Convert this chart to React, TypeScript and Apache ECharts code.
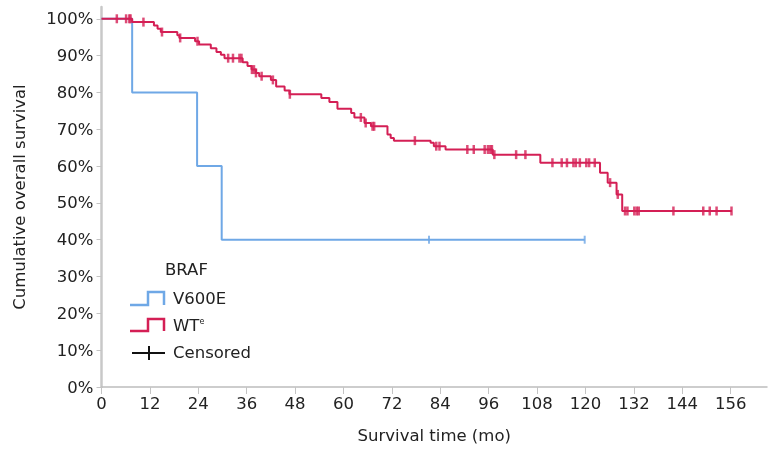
import React, { useEffect, useRef } from "react";
import * as echarts from "echarts";

// ---- data ----
const xTicks = [0, 12, 24, 36, 48, 60, 72, 84, 96, 108, 120, 132, 144, 156];
const yTicks = [0, 10, 20, 30, 40, 50, 60, 70, 80, 90, 100];

const blueTimes = [0, 7.6, 23.7, 29.8, 119.8];
const blueSurv = [100, 80, 60, 40, 40];
const blueCensor = [81.2, 119.8];

const redTimes = [0, 7.6, 13.0, 13.9, 14.7, 18.8, 19.3, 23.2, 24.2, 27.1, 28.5, 29.6, 30.5, 35.0, 36.2, 37.2, 38.3, 39.1, 42.0, 43.3, 45.4, 46.6, 54.5, 56.5, 58.5, 61.9, 62.7, 65.2, 66.8, 70.9, 71.7, 72.5, 81.6, 82.4, 85.3, 97.0, 108.8, 123.6, 125.5, 127.7, 129.1, 156.3];
const redSurv = [100, 99.1, 98.2, 97.3, 96.4, 95.5, 94.8, 93.9, 93.0, 92.0, 91.0, 90.2, 89.3, 88.2, 87.2, 86.2, 85.3, 84.4, 83.4, 81.6, 80.5, 79.5, 78.5, 77.4, 75.6, 74.4, 73.2, 71.7, 70.8, 68.6, 67.6, 66.9, 66.3, 65.4, 64.5, 63.1, 60.9, 58.2, 55.5, 52.3, 47.8, 47.8];
const redCensor = [3.8, 6.1, 6.9, 7.2, 10.4, 15.0, 19.5, 23.8, 31.4, 32.6, 34.2, 34.7, 37.3, 37.8, 38.3, 39.7, 42.5, 46.7, 64.3, 65.5, 67.2, 67.6, 77.7, 83.0, 83.8, 90.7, 92.3, 95.0, 95.8, 96.4, 96.8, 97.4, 102.8, 105.1, 111.8, 114.1, 115.4, 117.0, 117.6, 118.6, 120.2, 120.9, 122.3, 126.1, 128.0, 129.8, 130.4, 132.1, 132.7, 133.2, 141.8, 149.2, 150.8, 152.5, 156.2];

const BLUE = "#6fa8e6";
const RED = "#d41f55";
const FONT = "DejaVu Sans";
const FS = 16.5;

function stepLookup(times: number[], surv: number[], t: number): number {
  let v = surv[0];
  for (let i = 0; i < times.length; i++) {
    if (times[i] <= t) v = surv[i];
  }
  return v;
}

export default function App() {
  const ref = useRef<HTMLDivElement>(null);
  useEffect(() => {
    if (!ref.current) return;
    const chart = echarts.init(ref.current, undefined, { renderer: "svg" });
    const redLine = redTimes.map((t, i) => [t, redSurv[i]]);
    const blueLine = blueTimes.map((t, i) => [t, blueSurv[i]]);
    const redC = redCensor.map((t) => [t, stepLookup(redTimes, redSurv, t)]);
    const blueC = blueCensor.map((t) => [t, stepLookup(blueTimes, blueSurv, t)]);
    const textStyle = { fontFamily: FONT, fontSize: FS, fill: "#222" };
    const gridTop = 7;
    const gridBottom = 60;
    const gridH = 449 - gridTop - gridBottom;
    chart.setOption({
      animation: false,
      grid: { left: 101.5, right: 10, top: gridTop, bottom: gridBottom, containLabel: false },
      xAxis: [
        {
          type: "value",
          min: 0,
          max: 165,
          interval: 12,
          name: "Survival time (mo)",
          nameLocation: "middle",
          nameGap: 40,
          nameTextStyle: { fontFamily: FONT, fontSize: FS, color: "#222" },
          axisLine: { lineStyle: { color: "#bdbdbd", width: 1.5 } },
          axisTick: { customValues: xTicks, length: 5, lineStyle: { color: "#c4c4c4" } },
          axisLabel: { customValues: xTicks, fontFamily: FONT, fontSize: FS, color: "#222", margin: 8 },
          splitLine: { show: false },
        },
        {
          type: "value",
          min: 0,
          max: 165,
          interval: 12,
          position: "top",
          offset: -gridH,
          axisLine: { show: false },
          axisTick: { show: true, inside: true, customValues: xTicks, length: 5, lineStyle: { color: "#c4c4c4" } },
          axisLabel: { show: false },
          splitLine: { show: false },
        },
      ],
      yAxis: {
        type: "value",
        min: 0,
        max: 103.2,
        interval: 10,
        name: "Cumulative overall survival",
        nameLocation: "middle",
        nameGap: 74,
        nameRotate: 90,
        nameTextStyle: { fontFamily: FONT, fontSize: FS, color: "#222" },
        axisLine: { show: true, lineStyle: { color: "#c8c8c8", width: 2.5 } },
        axisTick: { show: true, customValues: yTicks, length: 5, lineStyle: { color: "#c4c4c4" } },
        axisLabel: { customValues: yTicks, formatter: "{value}%", fontFamily: FONT, fontSize: FS, color: "#222", margin: 8 },
        splitLine: { show: false },
      },
      series: [
        {
          type: "line",
          step: "end",
          data: blueLine,
          showSymbol: false,
          lineStyle: { color: BLUE, width: 2 },
          z: 2,
        },
        {
          type: "line",
          step: "end",
          data: redLine,
          showSymbol: false,
          lineStyle: { color: RED, width: 2 },
          z: 3,
        },
        {
          type: "scatter",
          data: blueC,
          symbol: "rect",
          symbolSize: [2, 8],
          itemStyle: { color: BLUE },
          z: 2,
        },
        {
          type: "scatter",
          data: redC,
          symbol: "rect",
          symbolSize: [2.5, 9],
          itemStyle: { color: RED },
          z: 4,
        },
      ],
      graphic: [
        { type: "text", left: 165, top: 261, style: { ...textStyle, text: "BRAF" } },
        {
          type: "polyline",
          shape: { points: [[130, 305], [148, 305], [148, 292], [164, 292], [164, 305]] },
          style: { stroke: BLUE, lineWidth: 2.5, fill: "none" },
        },
        { type: "text", left: 173, top: 290, style: { ...textStyle, text: "V600E" } },
        {
          type: "polyline",
          shape: { points: [[130, 331], [148, 331], [148, 319], [164, 319], [164, 331]] },
          style: { stroke: RED, lineWidth: 2.5, fill: "none" },
        },
        {
          type: "text",
          left: 173,
          top: 317,
          style: {
            ...textStyle,
            text: "{m|WT}{s|e}",
            rich: {
              m: { fontFamily: FONT, fontSize: FS, fill: "#222", color: "#222" },
              s: { fontFamily: FONT, fontSize: 8, fill: "#222", color: "#222", verticalAlign: "top", padding: [0, 0, 8, 0] },
            },
          },
        },
        {
          type: "line",
          shape: { x1: 132, y1: 353, x2: 165, y2: 353 },
          style: { stroke: "#111", lineWidth: 2 },
        },
        {
          type: "line",
          shape: { x1: 149, y1: 346, x2: 149, y2: 360 },
          style: { stroke: "#111", lineWidth: 2 },
        },
        { type: "text", left: 173, top: 344, style: { ...textStyle, text: "Censored" } },
      ],
    });
    return () => chart.dispose();
  }, []);
  return <div ref={ref} style={{ position: "fixed", left: 0, top: 0, width: 777, height: 449 }} />;
}
